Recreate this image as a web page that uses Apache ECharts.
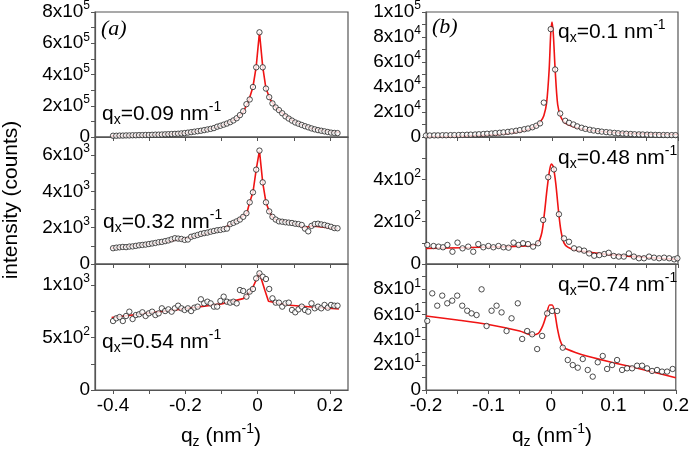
<!DOCTYPE html>
<html>
<head>
<meta charset="utf-8">
<script src="https://cdn.jsdelivr.net/npm/echarts@6.0.0/dist/echarts.min.js"></script>
<style>
  html, body { margin: 0; padding: 0; background: #fff; }
  #main { width: 692px; height: 451px; }
</style>
</head>
<body>
<div id="main"></div>
<script>
// ---- data ----
// left column: shared q_z scan grid
const qLeft = [-0.400,-0.391,-0.382,-0.373,-0.364,-0.355,-0.346,-0.337,-0.328,-0.319,
  -0.310,-0.301,-0.292,-0.283,-0.274,-0.265,-0.256,-0.247,-0.238,-0.229,
  -0.220,-0.211,-0.202,-0.193,-0.184,-0.175,-0.166,-0.157,-0.148,-0.139,
  -0.130,-0.121,-0.112,-0.103,-0.094,-0.085,-0.076,-0.067,-0.058,-0.049,
  -0.040,-0.031,-0.022,-0.013,-0.004,0.005,0.014,0.023,0.032,0.041,
  0.050,0.059,0.068,0.077,0.086,0.095,0.104,0.113,0.122,0.131,
  0.140,0.149,0.158,0.167,0.176,0.185,0.194,0.203,0.212,0.221];

// (a) q_x = 0.09 nm-1, in units of 1e5 counts
const countsA1 = [0.08,0.08,0.09,0.09,0.10,0.10,0.11,0.11,0.12,0.12,
  0.13,0.13,0.14,0.15,0.15,0.16,0.17,0.18,0.19,0.20,
  0.21,0.23,0.25,0.28,0.31,0.34,0.37,0.40,0.44,0.48,
  0.52,0.57,0.66,0.72,0.79,0.86,0.95,1.06,1.20,1.40,
  1.65,2.10,2.40,3.20,4.46,6.70,4.46,3.10,2.55,2.15,
  1.89,1.72,1.52,1.32,1.18,1.05,0.93,0.85,0.77,0.69,
  0.62,0.55,0.49,0.44,0.40,0.36,0.32,0.28,0.26,0.25];
const fitQA1 = [-0.404,-0.3,-0.2,-0.15,-0.1,-0.06,-0.04,-0.025,-0.013,-0.004,0.005,0.014,0.023,0.035,0.05,0.07,0.1,0.15,0.2,0.225];
const fitA1 = [0.07,0.12,0.25,0.42,0.72,1.15,1.6,2.3,3.2,4.5,6.7,4.5,3.1,2.4,1.9,1.5,1.0,0.55,0.32,0.3];

// (a) q_x = 0.32 nm-1, in units of 1e3 counts
const countsA2 = [0.87,0.90,0.92,0.94,0.93,0.96,0.97,1.00,1.03,1.05,
  1.07,1.10,1.13,1.16,1.20,1.22,1.26,1.30,1.36,1.42,
  1.40,1.38,1.33,1.35,1.50,1.55,1.60,1.66,1.70,1.73,
  1.78,1.82,1.86,1.88,1.92,1.95,2.20,2.27,2.35,2.45,
  2.60,2.80,3.40,3.95,5.20,6.25,4.50,3.40,2.90,2.60,
  2.45,2.35,2.33,2.30,2.28,2.26,2.22,2.20,2.15,1.95,
  1.80,2.10,2.20,2.22,2.18,2.15,2.10,2.05,1.98,1.97];
const fitQA2 = [-0.404,-0.3,-0.2,-0.1,-0.06,-0.03,-0.022,-0.013,-0.004,0.005,0.014,0.023,0.032,0.041,0.05,0.1,0.13,0.15,0.222];
const fitA2 = [0.87,1.1,1.4,1.9,2.35,2.8,3.4,3.95,5.2,6.25,4.5,3.4,2.9,2.6,2.45,2.25,2.0,2.1,1.95];

// (a) q_x = 0.54 nm-1, counts
const countsA3 = [657,683,695,657,705,746,676,714,721,740,
  705,730,746,714,730,778,752,768,746,778,
  803,778,762,778,752,784,794,864,825,841,
  825,794,794,848,889,841,832,841,825,952,
  943,889,937,962,1063,1111,1079,1057,962,873,
  832,832,794,825,832,762,740,768,794,762,
  746,825,778,794,778,810,784,810,803,803];
const fitQA3 = [-0.404,-0.2,-0.1,-0.04,-0.017,0.005,0.02,0.03,0.08,0.15,0.225];
const fitA3 = [690,775,820,870,950,1115,950,845,810,790,772];

// (b) q_x = 0.1 nm-1, in units of 1e4 counts
const qB1 = [-0.200,-0.194,-0.187,-0.181,-0.174,-0.168,-0.161,-0.155,-0.148,-0.142,
  -0.135,-0.129,-0.122,-0.116,-0.109,-0.103,-0.096,-0.090,-0.083,-0.077,
  -0.070,-0.064,-0.057,-0.051,-0.044,-0.038,-0.031,-0.025,-0.019,-0.013,
  -0.002,0.005,0.013,0.021,0.027,0.034,0.040,0.047,0.053,0.060,
  0.066,0.073,0.079,0.086,0.092,0.099,0.105,0.112,0.118,0.125,
  0.131,0.138,0.144,0.151,0.157,0.164,0.170,0.177,0.183,0.190,0.196];
const countsB1 = [0.12,0.12,0.13,0.13,0.14,0.14,0.15,0.15,0.16,0.17,
  0.18,0.19,0.20,0.22,0.24,0.26,0.28,0.31,0.34,0.37,
  0.41,0.45,0.50,0.55,0.62,0.68,0.78,0.90,1.09,2.75,
  8.63,5.40,1.88,1.30,1.14,1.00,0.85,0.74,0.65,0.58,
  0.52,0.47,0.43,0.39,0.36,0.33,0.30,0.28,0.26,0.24,
  0.22,0.21,0.20,0.19,0.18,0.17,0.16,0.16,0.15,0.15,0.15];
const fitQB1 = [-0.2,-0.15,-0.1,-0.07,-0.05,-0.035,-0.025,-0.018,-0.013,-0.0085,-0.0045,-0.002,0,0.002,0.005,0.009,0.014,0.02,0.027,0.035,0.05,0.07,0.1,0.15,0.2];
const fitB1 = [0.03,0.06,0.15,0.28,0.45,0.65,0.9,1.25,1.7,2.75,5.4,8.3,9.2,8.3,5.4,2.6,1.6,1.15,0.95,0.8,0.62,0.48,0.35,0.25,0.2];

// (b) q_x = 0.48 nm-1, counts
const qB2 = [-0.198,-0.188,-0.180,-0.173,-0.166,-0.158,-0.150,-0.142,-0.133,-0.125,
  -0.117,-0.109,-0.101,-0.093,-0.085,-0.077,-0.069,-0.061,-0.053,-0.046,
  -0.038,-0.030,-0.022,-0.014,-0.006,0.003,0.011,0.019,0.027,0.035,
  0.043,0.051,0.059,0.067,0.075,0.083,0.090,0.098,0.106,0.114,
  0.122,0.130,0.138,0.146,0.154,0.162,0.170,0.178,0.186,0.194,0.199];
const countsB2 = [90,85,82,79,90,58,101,74,82,58,
  94,79,85,79,85,79,77,101,90,98,
  94,82,98,208,410,447,235,121,105,74,
  69,63,50,39,42,47,53,38,35,35,
  50,35,27,27,35,30,27,30,27,22,27];
const fitQB2 = [-0.2,-0.1,-0.03,-0.022,-0.016,-0.012,-0.008,-0.004,-0.001,0.002,0.006,0.01,0.014,0.019,0.025,0.035,0.06,0.1,0.15,0.2];
const fitB2 = [74,80,88,100,150,240,350,440,472,460,380,260,160,100,80,68,55,42,31,22];

// (b) q_x = 0.74 nm-1, counts
const qB3 = [-0.198,-0.190,-0.182,-0.174,-0.166,-0.158,-0.150,-0.142,-0.134,-0.127,
  -0.119,-0.111,-0.103,-0.095,-0.087,-0.079,-0.071,-0.063,-0.053,-0.046,
  -0.038,-0.030,-0.022,-0.014,-0.006,0.002,0.010,0.019,0.027,0.035,
  0.043,0.051,0.059,0.067,0.075,0.083,0.090,0.098,0.106,0.114,
  0.122,0.130,0.138,0.146,0.154,0.162,0.170,0.178,0.186,0.195];
const countsB3 = [54.8,76.7,66.9,74.9,68.8,70.9,74.9,66.9,62.9,60.8,
  59.5,79.9,50.8,62.9,66.9,61.6,46.8,56.9,68.8,40.5,
  46.8,44.2,32.5,42.9,60.8,62.7,62.7,33.6,23.8,19.8,
  17.7,24.6,15.9,10.6,22.0,27.0,16.7,19.8,23.8,15.9,
  17.2,17.2,19.3,19.3,17.2,15.1,15.9,14.6,14.6,16.7];
const fitQB3 = [-0.2,-0.15,-0.1,-0.05,-0.03,-0.02,-0.013,-0.007,-0.002,0.002,0.006,0.01,0.015,0.02,0.025,0.05,0.1,0.15,0.2];
const fitB3 = [58.7,55.6,52,46.8,43.7,45,51,60,67.5,67.5,62,50,39,34,32.5,28,21.7,15.9,9.8];

// axis ticks / labels
const xTicksLeft = [-0.4,-0.3,-0.2,-0.1,0,0.1,0.2];
const xLabelsLeft = [-0.4,-0.2,0,0.2];
const xTicksRight = [-0.2,-0.15,-0.1,-0.05,0,0.05,0.1,0.15,0.2];
const xLabelsRight = [-0.2,-0.1,0,0.1,0.2];

const qxLabels = ['0.09', '0.32', '0.54', '0.1', '0.48', '0.74'];

// ---- chart ----
const FONT = '"Liberation Sans", Arial, sans-serif';
const AX = '#555';

const pairs = (q, v, s) => q.map((x, i) => [x, +(v[i] * s).toPrecision(6)]);
const steps = (a, b, d) => { const r = []; for (let v = a; v <= b + d / 2; v += d) r.push(+v.toPrecision(6)); return r; };

function sci(v) {
  if (Math.abs(v) < 1e-12) return '0';
  const e = Math.floor(Math.log10(v) + 1e-9);
  const m = Math.round(v / Math.pow(10, e));
  return '{b|' + m + 'x10}{s|' + e + '}';
}

const panels = [
  { left: 95, top: 11, h: 126, side: 'L', q: qLeft, v: countsA1, fq: fitQA1, fv: fitA1, s: 1e5,
    yMax: 8e5, yTick: 1e5, yLab: [0, 2e5, 4e5, 6e5, 8e5], xlab: false },
  { left: 95, top: 137, h: 127, side: 'L', q: qLeft, v: countsA2, fq: fitQA2, fv: fitA2, s: 1e3,
    yMax: 7000, yTick: 1000, yLab: [0, 2000, 4000, 6000], xlab: false },
  { left: 95, top: 264, h: 126, side: 'L', q: qLeft, v: countsA3, fq: fitQA3, fv: fitA3, s: 1,
    yMax: 1200, yTick: 250, yLab: [0, 500, 1000], xlab: true },
  { left: 426, top: 11, h: 126, side: 'R', q: qB1, v: countsB1, fq: fitQB1, fv: fitB1, s: 1e4,
    yMax: 1e5, yTick: 1e4, yLab: [0, 2e4, 4e4, 6e4, 8e4, 1e5], xlab: false },
  { left: 426, top: 137, h: 127, side: 'R', q: qB2, v: countsB2, fq: fitQB2, fv: fitB2, s: 1,
    yMax: 600, yTick: 100, yLab: [0, 200, 400], xlab: false },
  { left: 426, top: 264, h: 126, side: 'R', q: qB3, v: countsB3, fq: fitQB3, fv: fitB3, s: 1,
    yMax: 100, yTick: 10, yLab: [0, 20, 40, 60, 80], xlab: true }
];

const grid = panels.map(p => ({
  left: p.left, top: p.top, width: p.side === 'L' ? 253 : 252, height: p.h,
  show: true, borderColor: AX, borderWidth: 1.2, backgroundColor: 'transparent'
}));

const xAxis = panels.map((p, i) => ({
  type: 'value', gridIndex: i,
  min: p.side === 'L' ? -0.45 : -0.2,
  max: p.side === 'L' ? 0.25 : 0.2,
  splitLine: { show: false },
  axisLine: { onZero: false, lineStyle: { color: AX, width: 1.2 } },
  axisTick: { inside: false, length: 4, lineStyle: { color: AX },
    customValues: p.side === 'L' ? xTicksLeft : xTicksRight },
  axisLabel: { show: p.xlab, margin: 6, color: '#000', fontFamily: FONT, fontSize: 19,
    customValues: p.side === 'L' ? xLabelsLeft : xLabelsRight,
    formatter: v => (Math.abs(v) < 1e-9 ? '0' : String(+v.toFixed(2))) }
}));

const yAxis = panels.map((p, i) => ({
  type: 'value', gridIndex: i, min: 0, max: p.yMax,
  splitLine: { show: false },
  axisLine: { show: true, onZero: false, lineStyle: { color: AX, width: 1.2 } },
  axisTick: { inside: false, length: 4, lineStyle: { color: AX }, customValues: steps(0, p.yMax - p.yMax % p.yTick, p.yTick) },
  axisLabel: {
    margin: 5, color: '#000', fontFamily: FONT, fontSize: 19,
    customValues: p.yLab, formatter: sci,
    rich: {
      b: { fontFamily: FONT, fontSize: 19, lineHeight: 24, color: '#000' },
      s: { fontFamily: FONT, fontSize: 12, lineHeight: 12, verticalAlign: 'top', color: '#000' }
    }
  }
}));

const series = [];
panels.forEach((p, i) => {
  series.push({
    type: 'line', xAxisIndex: i, yAxisIndex: i, data: pairs(p.fq, p.fv, p.s),
    showSymbol: false, smooth: p.side === 'R' ? 0.3 : false,
    lineStyle: { color: '#f01414', width: 1.6 }, z: 2, silent: true
  });
  series.push({
    type: 'scatter', xAxisIndex: i, yAxisIndex: i, data: pairs(p.q, p.v, p.s),
    symbol: 'circle', symbolSize: 5.4,
    itemStyle: { color: '#fff', borderColor: '#222', borderWidth: 1 }, z: 3, silent: true
  });
});

const txtRich = {
  m: { fontFamily: FONT, fontSize: 21, lineHeight: 27, fill: '#000' },
  sub: { fontFamily: FONT, fontSize: 14, lineHeight: 14, verticalAlign: 'bottom', fill: '#000' },
  sup: { fontFamily: FONT, fontSize: 14, lineHeight: 14, verticalAlign: 'top', fill: '#000' }
};
const qxPos = [[102, 114], [103, 222], [102, 342], [558, 32], [558, 158], [558, 285]];

const graphic = [];
qxLabels.forEach((lab, i) => {
  graphic.push({
    type: 'text', x: qxPos[i][0], y: qxPos[i][1], z: 10,
    style: { text: '{m|q}{sub|x}{m|=' + lab + ' nm}{sup|-1}', rich: txtRich, align: 'left', verticalAlign: 'middle' }
  });
});
graphic.push(
  { type: 'text', x: 101, y: 29, z: 10,
    style: { text: '(a)', font: 'italic 22px "Liberation Serif", "Times New Roman", serif', fill: '#000', verticalAlign: 'middle' } },
  { type: 'text', x: 432, y: 27, z: 10,
    style: { text: '(b)', font: 'italic 22px "Liberation Serif", "Times New Roman", serif', fill: '#000', verticalAlign: 'middle' } },
  { type: 'text', x: 11, y: 200, rotation: Math.PI / 2, z: 10,
    style: { text: 'intensity (counts)', font: '21px ' + FONT, fill: '#000', align: 'center', verticalAlign: 'middle' } },
  { type: 'text', x: 221, y: 436, z: 10,
    style: { text: '{m|q}{sub|z}{m| (nm}{sup|-1}{m|)}', rich: txtRich, align: 'center', verticalAlign: 'middle' } },
  { type: 'text', x: 552, y: 436, z: 10,
    style: { text: '{m|q}{sub|z}{m| (nm}{sup|-1}{m|)}', rich: txtRich, align: 'center', verticalAlign: 'middle' } }
);

const chart = echarts.init(document.getElementById('main'), null, { renderer: 'canvas' });
chart.setOption({
  animation: false,
  backgroundColor: '#fff',
  grid: grid,
  xAxis: xAxis,
  yAxis: yAxis,
  series: series,
  graphic: graphic
});
</script>
</body>
</html>
